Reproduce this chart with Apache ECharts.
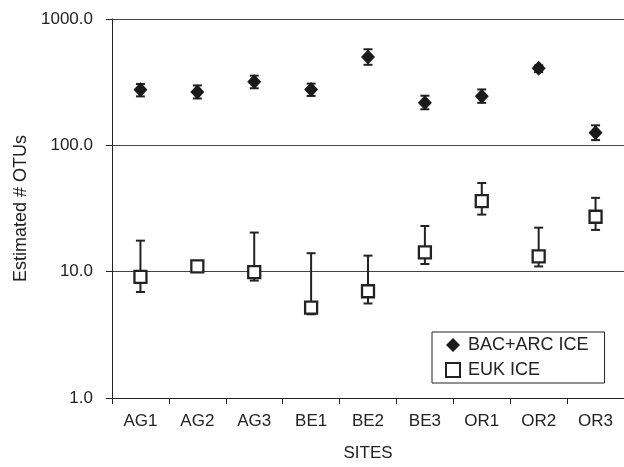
<!DOCTYPE html>
<html>
<head>
<meta charset="utf-8">
<script src="https://cdn.jsdelivr.net/npm/echarts@6/dist/echarts.min.js"></script>
<style>
  html, body { margin: 0; padding: 0; background: #fff; }
  #main { width: 624px; height: 467px; }
</style>
</head>
<body>
<div id="main"></div>
<script>
// sites on the x axis
var sites = ['AG1', 'AG2', 'AG3', 'BE1', 'BE2', 'BE3', 'OR1', 'OR2', 'OR3'];
// bacteria + archaea ice, estimated OTUs with error range
var bacVals = [275, 264, 319, 277, 501, 217, 245, 407, 126];
var bacLow  = [244, 235, 283, 246, 434, 193, 217, 380, 110];
var bacHigh = [306, 298, 356, 308, 576, 247, 277, 430, 144];
// eukaryote ice
var eukVals = [9.1, 11.0, 9.9, 5.2, 7.0, 14.2, 36.2, 13.2, 27.2];
var eukLow  = [6.9, 10.2, 8.5, 4.6, 5.6, 11.5, 28.3, 11.0, 21.4];
var eukHigh = [17.6, 11.8, 20.4, 14.0, 13.4, 23.0, 50.3, 22.3, 38.4];
var yTicks = [1, 10, 100, 1000];

var ink = '#222';
var font = 'Liberation Sans, Arial, sans-serif';

function errData(lo, hi) {
  return sites.map(function (s, i) { return [i, lo[i], hi[i]]; });
}

// vertical error bar with caps
function renderErr(params, api) {
  var x = api.value(0);
  var lo = api.coord([x, api.value(1)]);
  var hi = api.coord([x, api.value(2)]);
  var w = 4.5;
  var style = { stroke: ink, lineWidth: 2 };
  return {
    type: 'group',
    children: [
      { type: 'line', shape: { x1: lo[0], y1: lo[1], x2: hi[0], y2: hi[1] }, style: style },
      { type: 'line', shape: { x1: lo[0] - w, y1: lo[1], x2: lo[0] + w, y2: lo[1] }, style: style },
      { type: 'line', shape: { x1: hi[0] - w, y1: hi[1], x2: hi[0] + w, y2: hi[1] }, style: style }
    ]
  };
}

var myChart = echarts.init(document.getElementById('main'), null, { renderer: 'canvas' });

var option = {
  animation: false,
  backgroundColor: '#fff',
  textStyle: { fontFamily: font },
  grid: { left: 112, right: 0, top: 19, bottom: 65 },
  legend: {
    data: ['BAC+ARC ICE', 'EUK ICE'],
    orient: 'vertical',
    left: 432,
    top: 332,
    padding: [4, 16, 4, 13],
    itemWidth: 14,
    itemHeight: 14,
    itemGap: 7,
    borderColor: ink,
    borderWidth: 1,
    backgroundColor: '#fff',
    textStyle: { fontSize: 18, color: ink, fontFamily: font, padding: [0, 0, 0, 3] }
  },
  xAxis: {
    type: 'category',
    data: sites,
    name: 'SITES',
    nameLocation: 'middle',
    nameGap: 47,
    nameTextStyle: { fontSize: 17, color: ink },
    axisLine: { lineStyle: { color: ink, width: 1 } },
    axisTick: { show: true, length: 6, lineStyle: { color: ink } },
    axisLabel: { fontSize: 17, color: ink, margin: 15 },
    splitLine: { show: false }
  },
  yAxis: {
    type: 'log',
    logBase: 10,
    min: 1,
    max: 1000,
    name: 'Estimated # OTUs',
    nameLocation: 'middle',
    nameGap: 82,
    nameTextStyle: { fontSize: 18, color: ink },
    axisLine: { show: true, lineStyle: { color: ink, width: 1 } },
    axisTick: { show: true, length: 6, lineStyle: { color: ink } },
    axisLabel: {
      fontSize: 17, color: ink, margin: 19,
      formatter: function (v) { return yTicks.indexOf(Math.round(v)) >= 0 ? v.toFixed(1) : ''; }
    },
    splitLine: { show: true, lineStyle: { color: '#444', width: 1 } }
  },
  series: [
    {
      name: 'bac-err',
      type: 'custom',
      renderItem: renderErr,
      encode: { x: 0, y: [1, 2] },
      data: errData(bacLow, bacHigh),
      z: 2
    },
    {
      name: 'euk-err',
      type: 'custom',
      renderItem: renderErr,
      encode: { x: 0, y: [1, 2] },
      data: errData(eukLow, eukHigh),
      z: 2
    },
    {
      name: 'BAC+ARC ICE',
      type: 'scatter',
      symbol: 'diamond',
      symbolSize: [14, 15],
      itemStyle: { color: '#1a1a1a', opacity: 1 },
      data: bacVals,
      z: 3
    },
    {
      name: 'EUK ICE',
      type: 'scatter',
      symbol: 'rect',
      symbolSize: 12,
      itemStyle: { color: '#fff', borderColor: ink, borderWidth: 2.3, opacity: 1 },
      data: eukVals,
      z: 3
    }
  ]
};

myChart.setOption(option);
</script>
</body>
</html>
